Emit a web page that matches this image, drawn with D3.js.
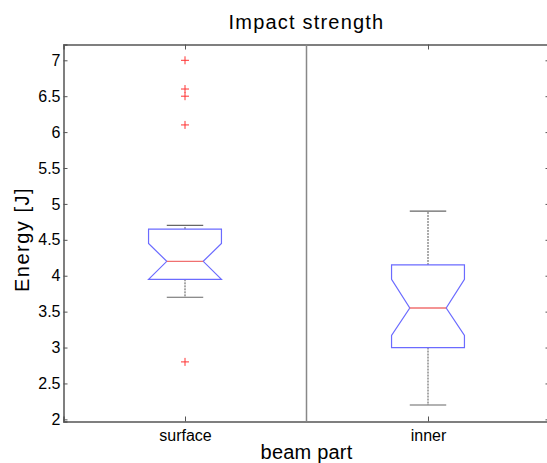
<!DOCTYPE html>
<html>
<head>
<meta charset="utf-8">
<script src="https://cdn.jsdelivr.net/npm/d3@7"></script>
<style>
  body { margin: 0; background: #fff; }
  text { font-family: "Liberation Sans", Arial, sans-serif; fill: #000; }
</style>
</head>
<body>
<svg id="chart" width="547" height="463"></svg>
<script>
// dati
var categories = ["surface", "inner"];
var q1 = [3.95, 3.0];
var medians = [4.2, 3.55];
var q3 = [4.65, 4.15];
var notchLow = [3.95, 3.17];
var notchHigh = [4.45, 3.95];
var whiskerLow = [3.7, 2.2];
var whiskerHigh = [4.7, 4.9];
var outliers = [[7.0, 6.6, 6.5, 6.1, 2.8], []];
var yTicks = [2, 2.5, 3, 3.5, 4, 4.5, 5, 5.5, 6, 6.5, 7];

var plotLeft = 63.5, plotRight = 549.5, plotTop = 44.5, plotBottom = 421.5;
var axisColor = "#555";

var svg = d3.select("#chart");

var x = d3.scaleLinear().domain([0.5, 2.5]).range([plotLeft, plotRight]);
var y = d3.scaleLinear().domain([1.97, 7.22]).range([plotBottom, plotTop]);

// assi
svg.append("g")
  .attr("transform", "translate(" + plotLeft + ",0)")
  .call(d3.axisLeft(y).tickValues(yTicks).tickSize(-4).tickPadding(3).tickFormat(d3.format("")))
  .call(function(g) {
    g.attr("font-size", null).attr("font-family", null);
    g.select(".domain").attr("stroke", axisColor).attr("stroke-width", 1.5);
    g.selectAll(".tick line").attr("stroke", axisColor);
    g.selectAll(".tick text").style("font-size", "16px").attr("fill", "#000");
  });

svg.append("g")
  .attr("transform", "translate(" + (plotRight - 4) + ",0)")
  .call(d3.axisRight(y).tickValues(yTicks).tickSize(-4).tickFormat(""))
  .call(function(g) {
    g.select(".domain").remove();
    g.selectAll(".tick line").attr("stroke", axisColor).attr("transform", "translate(4,0)");
  });

svg.append("g")
  .attr("transform", "translate(0," + plotBottom + ")")
  .call(d3.axisBottom(x).tickValues([1, 2]).tickSize(-5).tickPadding(8)
    .tickFormat(function(d) { return categories[d - 1]; }))
  .call(function(g) {
    g.attr("font-size", null).attr("font-family", null);
    g.select(".domain").attr("stroke", axisColor).attr("stroke-width", 1.5);
    g.selectAll(".tick line").attr("stroke", axisColor);
    g.selectAll(".tick text").style("font-size", "16px").attr("fill", "#000");
  });

svg.append("g")
  .attr("transform", "translate(0," + plotTop + ")")
  .call(d3.axisTop(x).tickValues([1, 2]).tickSize(-5).tickFormat(""))
  .call(function(g) {
    g.select(".domain").attr("stroke", axisColor).attr("stroke-width", 1.5);
    g.selectAll(".tick line").attr("stroke", axisColor);
  });

// linea divisoria
svg.append("line")
  .attr("x1", x(1.5)).attr("x2", x(1.5))
  .attr("y1", plotTop).attr("y2", plotBottom)
  .attr("stroke", "#888").attr("stroke-width", 1.5);

var boxW = 0.15, notchW = 0.075, capW = 0.075;

categories.forEach(function(c, i) {
  var cx = i + 1;
  var g = svg.append("g");

  // baffi
  g.append("line")
    .attr("x1", x(cx)).attr("x2", x(cx))
    .attr("y1", y(q3[i])).attr("y2", y(whiskerHigh[i]))
    .attr("stroke", "#555").attr("stroke-dasharray", "2,1");
  g.append("line")
    .attr("x1", x(cx)).attr("x2", x(cx))
    .attr("y1", y(q1[i])).attr("y2", y(whiskerLow[i]))
    .attr("stroke", "#555").attr("stroke-dasharray", "2,1");
  [whiskerHigh[i], whiskerLow[i]].forEach(function(v) {
    g.append("line")
      .attr("x1", x(cx - capW)).attr("x2", x(cx + capW))
      .attr("y1", y(v)).attr("y2", y(v))
      .attr("stroke", "#666").attr("stroke-width", 1.2);
  });

  // box con notch
  var pts = [
    [cx - boxW, q1[i]], [cx - boxW, notchLow[i]], [cx - notchW, medians[i]],
    [cx - boxW, notchHigh[i]], [cx - boxW, q3[i]], [cx + boxW, q3[i]],
    [cx + boxW, notchHigh[i]], [cx + notchW, medians[i]], [cx + boxW, notchLow[i]],
    [cx + boxW, q1[i]]
  ];
  g.append("path")
    .attr("d", d3.line().x(function(d) { return x(d[0]); }).y(function(d) { return y(d[1]); })(pts) + "Z")
    .attr("fill", "none").attr("stroke", "#6b6bff").attr("stroke-width", 1.2);

  g.append("line")
    .attr("x1", x(cx - notchW)).attr("x2", x(cx + notchW))
    .attr("y1", y(medians[i])).attr("y2", y(medians[i]))
    .attr("stroke", "#f07070").attr("stroke-width", 1.4);

  // outlier
  outliers[i].forEach(function(v) {
    g.append("path")
      .attr("d", "M" + (x(cx) - 4) + "," + y(v) + "h8M" + x(cx) + "," + (y(v) - 4) + "v8")
      .attr("stroke", "#f33").attr("stroke-width", 1);
  });
});

// titoli
svg.append("text")
  .attr("x", x(1.5)).attr("y", 29)
  .attr("text-anchor", "middle").style("font-size", "20px").style("letter-spacing", "1.2px")
  .text("Impact strength");

svg.append("text")
  .attr("x", x(1.5)).attr("y", 459)
  .attr("text-anchor", "middle").style("font-size", "20px").style("letter-spacing", "0.2px")
  .text("beam part");

svg.append("text")
  .attr("transform", "translate(29,239.5) rotate(-90)")
  .attr("text-anchor", "middle").style("font-size", "20px").style("letter-spacing", "1.5px")
  .text("Energy [J]");
</script>
</body>
</html>
